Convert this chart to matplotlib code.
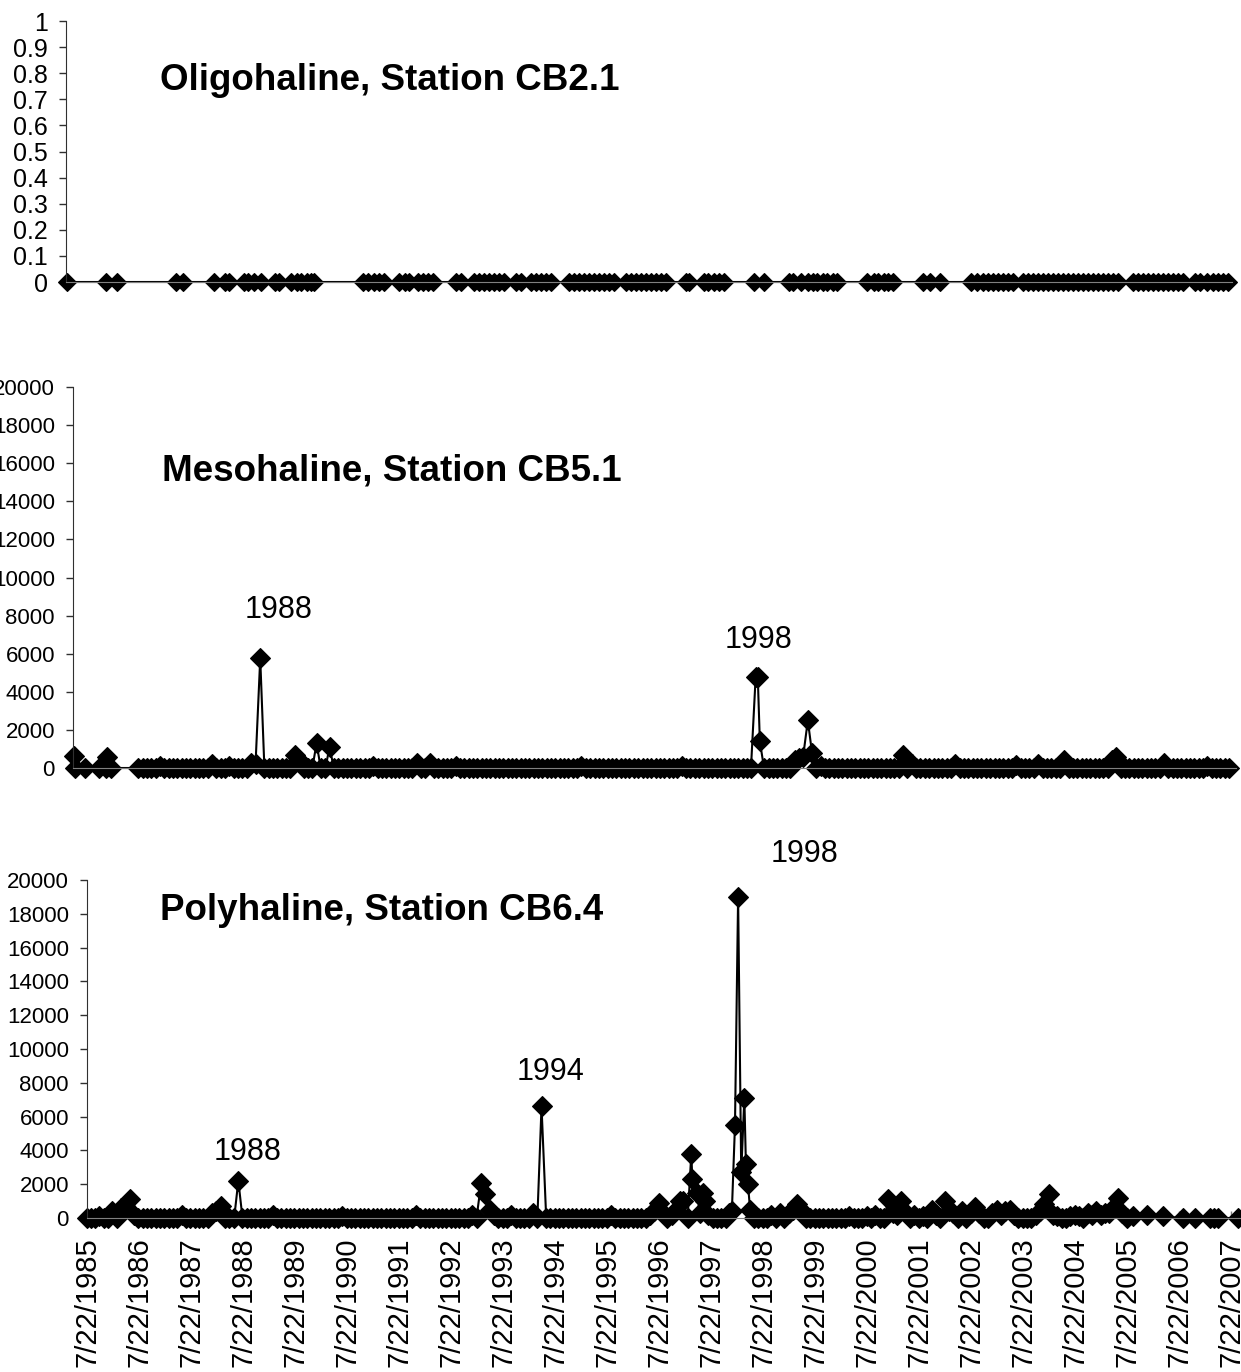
import matplotlib.pyplot as plt

plt.rcParams['font.family'] = ['Liberation Sans', 'DejaVu Sans']

# sample dates are decimal years, counts are cells per litre

# Oligohaline, CB2.1 - nothing found in any sample
oligo_dates = [
    1985.61, 1986.35, 1986.56, 1987.68, 1987.82, 1988.41, 1988.62, 1988.71, 1988.98, 1989.07,
    1989.17, 1989.32, 1989.57, 1989.65, 1989.89, 1989.99, 1990.08, 1990.18, 1990.27, 1990.33,
    1991.26, 1991.36, 1991.47, 1991.57, 1991.66, 1991.95, 1992.05, 1992.14, 1992.31, 1992.41,
    1992.50, 1992.60, 1993.04, 1993.13, 1993.38, 1993.47, 1993.57, 1993.66, 1993.76, 1993.85,
    1993.95, 1994.18, 1994.27, 1994.46, 1994.56, 1994.65, 1994.75, 1994.85, 1995.19, 1995.28,
    1995.38, 1995.47, 1995.57, 1995.66, 1995.76, 1995.85, 1995.95, 1996.05, 1996.27, 1996.37,
    1996.46, 1996.56, 1996.65, 1996.75, 1996.85, 1996.94, 1997.04, 1997.42, 1997.47, 1997.76,
    1997.85, 1997.95, 1998.05, 1998.14, 1998.71, 1998.90, 1999.38, 1999.47, 1999.61, 1999.74,
    1999.84, 1999.93, 2000.03, 2000.12, 2000.22, 2000.31, 2000.88, 2001.00, 2001.09, 2001.19,
    2001.28, 2001.38, 2001.95, 2002.08, 2002.27, 2002.85, 2002.98, 2003.09, 2003.19, 2003.28,
    2003.38, 2003.47, 2003.57, 2003.66, 2003.85, 2003.95, 2004.05, 2004.14, 2004.24, 2004.33,
    2004.43, 2004.52, 2004.62, 2004.71, 2004.81, 2004.90, 2005.00, 2005.09, 2005.19, 2005.28,
    2005.38, 2005.47, 2005.57, 2005.66, 2005.95, 2006.05, 2006.14, 2006.24, 2006.33, 2006.43,
    2006.52, 2006.62, 2006.71, 2006.81, 2006.90, 2007.13, 2007.23, 2007.36, 2007.47, 2007.57,
    2007.66, 2007.76,
]
oligo_cells = [
    0, 0, 0, 0, 0, 0, 0, 0, 0, 0,
    0, 0, 0, 0, 0, 0, 0, 0, 0, 0,
    0, 0, 0, 0, 0, 0, 0, 0, 0, 0,
    0, 0, 0, 0, 0, 0, 0, 0, 0, 0,
    0, 0, 0, 0, 0, 0, 0, 0, 0, 0,
    0, 0, 0, 0, 0, 0, 0, 0, 0, 0,
    0, 0, 0, 0, 0, 0, 0, 0, 0, 0,
    0, 0, 0, 0, 0, 0, 0, 0, 0, 0,
    0, 0, 0, 0, 0, 0, 0, 0, 0, 0,
    0, 0, 0, 0, 0, 0, 0, 0, 0, 0,
    0, 0, 0, 0, 0, 0, 0, 0, 0, 0,
    0, 0, 0, 0, 0, 0, 0, 0, 0, 0,
    0, 0, 0, 0, 0, 0, 0, 0, 0, 0,
    0, 0, 0, 0, 0, 0, 0, 0, 0, 0,
    0, 0,
]

# Mesohaline, CB5.1
meso_dates = [
    1984.80, 1984.82, 1985.02, 1985.29, 1985.42, 1985.44, 1985.52,
    1986.04, 1986.13, 1986.21, 1986.29, 1986.38, 1986.46, 1986.54, 1986.63, 1986.71, 1986.79, 1986.88, 1986.96,
    1987.04, 1987.13, 1987.21, 1987.29, 1987.38, 1987.46, 1987.54, 1987.63, 1987.71, 1987.79, 1987.88, 1987.96,
    1988.04, 1988.13, 1988.21, 1988.29, 1988.38, 1988.46, 1988.54, 1988.63, 1988.71, 1988.79, 1988.88, 1988.96,
    1989.04, 1989.13, 1989.21, 1989.29, 1989.38, 1989.46, 1989.54, 1989.63, 1989.71, 1989.79, 1989.88, 1989.96,
    1990.04, 1990.13, 1990.21, 1990.29, 1990.38, 1990.46, 1990.54, 1990.63, 1990.71, 1990.79, 1990.88, 1990.96,
    1991.04, 1991.13, 1991.21, 1991.29, 1991.38, 1991.46, 1991.54, 1991.63, 1991.71, 1991.79, 1991.88, 1991.96,
    1992.04, 1992.13, 1992.21, 1992.29, 1992.38, 1992.46, 1992.54, 1992.63, 1992.71, 1992.79, 1992.88, 1992.96,
    1993.04, 1993.13, 1993.21, 1993.29, 1993.38, 1993.46, 1993.54, 1993.63, 1993.71, 1993.79, 1993.88, 1993.96,
    1994.04, 1994.13, 1994.21, 1994.29, 1994.38, 1994.46, 1994.54, 1994.63, 1994.71, 1994.79, 1994.88, 1994.96,
    1995.04, 1995.13, 1995.21, 1995.29, 1995.38, 1995.46, 1995.54, 1995.63, 1995.71, 1995.79, 1995.88, 1995.96,
    1996.04, 1996.13, 1996.21, 1996.29, 1996.38, 1996.46, 1996.54, 1996.63, 1996.71, 1996.79, 1996.88, 1996.96,
    1997.04, 1997.13, 1997.21, 1997.29, 1997.38, 1997.46, 1997.54, 1997.63, 1997.71, 1997.79, 1997.88, 1997.92, 1997.96,
    1998.04, 1998.13, 1998.21, 1998.29, 1998.38, 1998.46, 1998.54, 1998.63, 1998.71, 1998.79, 1998.88, 1998.96,
    1999.04, 1999.13, 1999.21, 1999.29, 1999.38, 1999.46, 1999.54, 1999.63, 1999.71, 1999.79, 1999.88, 1999.96,
    2000.04, 2000.13, 2000.21, 2000.29, 2000.38, 2000.46, 2000.54, 2000.63, 2000.71, 2000.79, 2000.88, 2000.96,
    2001.04, 2001.13, 2001.21, 2001.29, 2001.38, 2001.46, 2001.54, 2001.63, 2001.71, 2001.79, 2001.88, 2001.96,
    2002.04, 2002.13, 2002.21, 2002.29, 2002.38, 2002.46, 2002.54, 2002.63, 2002.71, 2002.79, 2002.88, 2002.96,
    2003.04, 2003.13, 2003.21, 2003.29, 2003.38, 2003.46, 2003.54, 2003.63, 2003.71, 2003.79, 2003.88, 2003.96,
    2004.04, 2004.13, 2004.21, 2004.29, 2004.38, 2004.46, 2004.54, 2004.63, 2004.71, 2004.79, 2004.88, 2004.96,
    2005.04, 2005.13, 2005.21, 2005.29, 2005.38, 2005.46, 2005.54, 2005.63, 2005.71, 2005.79, 2005.88, 2005.96,
    2006.04, 2006.13, 2006.21, 2006.29, 2006.38, 2006.46, 2006.54, 2006.63, 2006.71, 2006.79, 2006.88, 2006.96,
]
meso_cells = [
    630, 0, 0, 0, 0, 600, 0,
    0, 0, 0, 0, 0, 100, 0, 0, 0, 0, 0, 0,
    0, 0, 0, 0, 0, 200, 0, 0, 0, 100, 0, 0,
    0, 0, 250, 200, 5750, 0, 0, 0, 0, 0, 0, 0,
    700, 400, 0, 0, 0, 1300, 0, 0, 1100, 0, 0, 0,
    0, 0, 0, 0, 0, 0, 100, 0, 0, 0, 0, 0,
    0, 0, 0, 0, 250, 0, 0, 250, 0, 0, 0, 0,
    0, 100, 0, 0, 0, 0, 0, 0, 0, 0, 0, 0,
    0, 0, 0, 0, 0, 0, 0, 0, 0, 0, 0, 0,
    0, 0, 0, 0, 0, 0, 100, 0, 0, 0, 0, 0,
    0, 0, 0, 0, 0, 0, 0, 0, 0, 0, 0, 0,
    0, 0, 0, 0, 0, 100, 0, 0, 0, 0, 0, 0,
    0, 0, 0, 0, 0, 0, 0, 0, 0, 0, 4800, 4800, 1400,
    0, 0, 0, 0, 0, 0, 0, 400, 500, 600, 2500, 800,
    0, 100, 0, 0, 0, 0, 0, 0, 0, 0, 0, 0,
    0, 0, 0, 0, 0, 0, 0, 0, 700, 0, 200, 0,
    0, 0, 0, 0, 0, 0, 0, 0, 200, 0, 0, 0,
    0, 0, 0, 0, 0, 0, 0, 0, 0, 0, 150, 0,
    0, 0, 0, 200, 0, 0, 0, 0, 0, 400, 0, 0,
    0, 0, 0, 0, 0, 0, 0, 0, 400, 600, 0, 0,
    0, 0, 0, 0, 0, 0, 0, 0, 250, 0, 0, 0,
    0, 0, 0, 0, 0, 0, 100, 0, 0, 0, 0, 0,
]

# Polyhaline, CB6.4
poly_dates = [
    1985.55, 1985.63, 1985.71, 1985.79, 1985.88, 1985.96,
    1986.04, 1986.13, 1986.21, 1986.29, 1986.38, 1986.46, 1986.54, 1986.63, 1986.71, 1986.79, 1986.88, 1986.96,
    1987.04, 1987.13, 1987.21, 1987.29, 1987.38, 1987.46, 1987.54, 1987.63, 1987.71, 1987.79, 1987.88, 1987.96,
    1988.04, 1988.13, 1988.21, 1988.29, 1988.38, 1988.46, 1988.54, 1988.63, 1988.71, 1988.79, 1988.88, 1988.96,
    1989.04, 1989.13, 1989.21, 1989.29, 1989.38, 1989.46, 1989.54, 1989.63, 1989.71, 1989.79, 1989.88, 1989.96,
    1990.04, 1990.13, 1990.21, 1990.29, 1990.38, 1990.46, 1990.54, 1990.63, 1990.71, 1990.79, 1990.88, 1990.96,
    1991.04, 1991.13, 1991.21, 1991.29, 1991.38, 1991.46, 1991.54, 1991.63, 1991.71, 1991.79, 1991.88, 1991.96,
    1992.04, 1992.13, 1992.21, 1992.29, 1992.38, 1992.46, 1992.54, 1992.63, 1992.71, 1992.79, 1992.88, 1992.96,
    1993.04, 1993.13, 1993.21, 1993.29, 1993.38, 1993.46, 1993.54, 1993.63, 1993.71, 1993.79, 1993.88, 1993.96,
    1994.04, 1994.13, 1994.21, 1994.29, 1994.38, 1994.46, 1994.54, 1994.63, 1994.71, 1994.79, 1994.88, 1994.96,
    1995.04, 1995.13, 1995.21, 1995.29, 1995.38, 1995.46, 1995.54, 1995.63, 1995.71, 1995.79, 1995.88, 1995.96,
    1996.04, 1996.13, 1996.21, 1996.29, 1996.38, 1996.46, 1996.54, 1996.63, 1996.71, 1996.79, 1996.88, 1996.96,
    1997.01, 1997.10, 1997.17, 1997.19, 1997.28, 1997.33, 1997.40, 1997.43, 1997.50, 1997.59, 1997.67, 1997.75,
    1997.83, 1997.90, 1997.95,
    1998.01, 1998.07, 1998.13, 1998.19, 1998.22, 1998.26, 1998.30, 1998.38, 1998.46, 1998.54, 1998.63, 1998.71,
    1998.79, 1998.88, 1998.96,
    1999.04, 1999.13, 1999.21, 1999.29, 1999.38, 1999.46, 1999.54, 1999.63, 1999.71, 1999.79, 1999.88, 1999.96,
    2000.04, 2000.13, 2000.21, 2000.29, 2000.38, 2000.46, 2000.54, 2000.63, 2000.71, 2000.79, 2000.88, 2000.96,
    2001.04, 2001.13, 2001.21, 2001.29, 2001.38, 2001.46, 2001.54, 2001.63, 2001.71, 2001.79, 2001.88, 2001.96,
    2002.04, 2002.13, 2002.21, 2002.29, 2002.38, 2002.46, 2002.54, 2002.63, 2002.71, 2002.79, 2002.88, 2002.96,
    2003.04, 2003.13, 2003.21, 2003.29, 2003.38, 2003.46, 2003.54, 2003.63, 2003.71, 2003.79, 2003.88, 2003.96,
    2004.04, 2004.13, 2004.21, 2004.29, 2004.38, 2004.46, 2004.54, 2004.63, 2004.71, 2004.79, 2004.88, 2004.96,
    2005.04, 2005.13, 2005.21, 2005.29, 2005.38, 2005.46,
    2005.55, 2005.67, 2005.93, 2006.24, 2006.63, 2006.86, 2007.15, 2007.22, 2007.30, 2007.68,
]
poly_cells = [
    0, 0, 0, 100, 0, 0,
    400, 0, 600, 700, 1100, 200, 0, 0, 0, 0, 0, 0,
    0, 0, 0, 0, 200, 0, 0, 0, 0, 0, 0, 300,
    400, 700, 0, 0, 0, 2200, 0, 0, 0, 0, 0, 0,
    0, 200, 0, 0, 0, 0, 0, 0, 0, 0, 0, 0,
    0, 0, 0, 0, 0, 100, 0, 0, 0, 0, 0, 0,
    0, 0, 0, 0, 0, 0, 0, 0, 0, 0, 150, 0,
    0, 0, 0, 0, 0, 0, 0, 0, 0, 0, 0, 200,
    0, 2100, 1400, 500, 200, 0, 0, 0, 200, 0, 0, 0,
    0, 300, 0, 6600, 0, 0, 0, 0, 0, 0, 0, 0,
    0, 0, 0, 0, 0, 0, 0, 200, 0, 0, 0, 0,
    0, 0, 0, 0, 200, 400, 900, 300, 0, 200, 500, 1000,
    1000, 0, 3800, 2300, 1500, 300, 1500, 1000, 200, 0, 0, 0,
    0, 300, 400,
    5500, 19000, 2700, 7100, 3200, 2000, 500, 0, 0, 0, 0, 200,
    0, 300, 0,
    300, 500, 800, 400, 0, 0, 0, 0, 0, 0, 0, 0,
    0, 0, 100, 0, 0, 0, 100, 0, 200, 0, 0, 1100,
    300, 200, 1000, 300, 0, 200, 0, 100, 0, 500, 200, 0,
    1000, 400, 300, 0, 400, 0, 300, 650, 300, 0, 0, 300,
    500, 200, 400, 500, 200, 0, 0, 0, 0, 200, 400, 800,
    1400, 200, 100, 0, 0, 100, 200, 100, 0, 300, 200, 400,
    200, 300, 300, 650, 1200, 300,
    0, 100, 200, 100, 0, 0, 0, 0, 0, 0,
]

tick_years = list(range(1985, 2008))

fig = plt.figure(figsize=(12.41, 13.72), dpi=100)

ax1 = fig.add_axes([0.05318, 0.79446, 0.93957, 0.19023])
ax2 = fig.add_axes([0.05882, 0.44023, 0.93715, 0.27770])
ax3 = fig.add_axes([0.07010, 0.11224, 0.92990, 0.24636])

line_style = dict(color='black', lw=1.5, marker='D', mfc='black', mec='black', mew=0.8, clip_on=False)

ax1.plot(oligo_dates, oligo_cells, ms=9, **line_style)
ax2.plot(meso_dates, meso_cells, ms=10, **line_style)
ax3.plot(poly_dates, poly_cells, ms=10.5, **line_style)

ax1.set_xlim(1985.59, 2007.84)
ax1.set_ylim(0, 1)
ax1.set_yticks([i / 10 for i in range(11)])
ax1.set_yticklabels(['0', '0.1', '0.2', '0.3', '0.4', '0.5', '0.6', '0.7', '0.8', '0.9', '1'])

ax2.set_xlim(1984.79, 2007.09)
ax3.set_xlim(1985.55, 2007.74)
for ax in (ax2, ax3):
    ax.set_ylim(0, 20000)
    ax.set_yticks(range(0, 20001, 2000))
    ax.set_yticklabels([str(v) for v in range(0, 20001, 2000)])

for ax in (ax1, ax2, ax3):
    ax.spines['top'].set_visible(False)
    ax.spines['right'].set_visible(False)
    ax.spines['left'].set_color('#303030')
    ax.spines['bottom'].set_color('#808080')
    ax.tick_params(axis='y', direction='out', length=5, width=1, color='#303030', pad=8)

ax1.tick_params(axis='y', labelsize=18)
ax2.tick_params(axis='y', labelsize=16)
ax3.tick_params(axis='y', labelsize=16)

ax1.set_xticks([])
ax2.set_xticks([])

# July 22 of each year on the bottom date axis
ax3.set_xticks([y + 0.555 for y in tick_years])
ax3.set_xticklabels(['7/22/%d' % y for y in tick_years], rotation=90, fontsize=21)
ax3.tick_params(axis='x', direction='in', length=5, width=1, color='#808080', pad=14)

# station names
fig.text(160 / 1241, 1 - 90 / 1372, 'Oligohaline, Station CB2.1', fontsize=26.5, fontweight='bold', va='baseline')
fig.text(162 / 1241, 1 - 480 / 1372, 'Mesohaline, Station CB5.1', fontsize=26.5, fontweight='bold', va='baseline')
fig.text(160 / 1241, 1 - 920 / 1372, 'Polyhaline, Station CB6.4', fontsize=26.5, fontweight='bold', va='baseline')

# bloom years
ax2.text(1988.74, 7900, '1988', fontsize=22, ha='center', va='baseline')
ax2.text(1997.94, 6300, '1998', fontsize=22, ha='center', va='baseline')
ax3.text(1988.63, 3430, '1988', fontsize=22, ha='center', va='baseline')
ax3.text(1994.47, 8170, '1994', fontsize=22, ha='center', va='baseline', clip_on=False)
ax3.text(1999.34, 21050, '1998', fontsize=22, ha='center', va='baseline', clip_on=False)

fig.savefig('out.png', dpi=100)
